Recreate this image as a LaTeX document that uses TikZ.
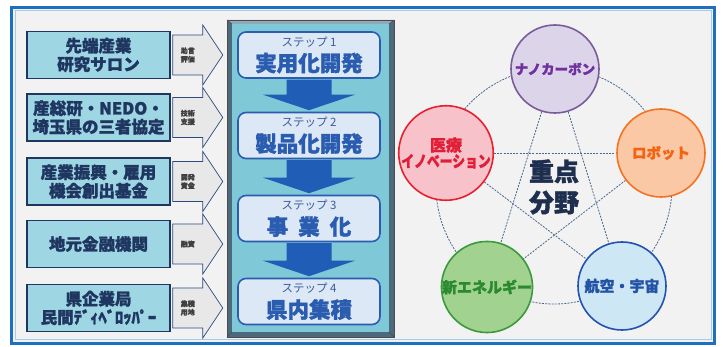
\documentclass[tikz,border=0pt]{standalone}
\usepackage{fontspec}
\usepackage{graphicx}
\setmainfont{Noto Sans CJK JP}[BoldFeatures={FakeBold=1.5}]
\usetikzlibrary{calc}
\pgfdeclarelayer{background}
\pgfdeclarelayer{mid}
\pgfsetlayers{background,mid,main}
\definecolor{frameblue}{HTML}{1F6FBF}
\definecolor{framelight}{HTML}{A9CBEA}
\definecolor{bggrey}{HTML}{F2F2F2}
\definecolor{navy}{HTML}{1F3660}
\definecolor{lboxfill}{HTML}{9FD6E4}
\definecolor{arrfill}{HTML}{E8E8E8}
\definecolor{arrdraw}{HTML}{2A4A80}
\definecolor{panelout}{HTML}{4C6A7B}
\definecolor{paneltop}{HTML}{8FA9B6}
\definecolor{panelin}{HTML}{7EC8D8}
\definecolor{stepfill}{HTML}{DCE8F5}
\definecolor{stepblue}{HTML}{2A5CB0}
\definecolor{subblue}{HTML}{3C5C98}
\definecolor{darrow}{HTML}{1F5DB6}
\definecolor{starline}{HTML}{4A6890}
\definecolor{purpfill}{HTML}{DCD5EA}
\definecolor{purpline}{HTML}{7A5C9C}
\definecolor{purptext}{HTML}{7030A0}
\definecolor{orfill}{HTML}{FBC8A6}
\definecolor{orline}{HTML}{F27422}
\definecolor{ortext}{HTML}{F06414}
\definecolor{redfill}{HTML}{F8C2CA}
\definecolor{redline}{HTML}{E8202E}
\definecolor{redtext}{HTML}{E01E38}
\definecolor{grfill}{HTML}{A2D290}
\definecolor{grline}{HTML}{3A9A3C}
\definecolor{grtext}{HTML}{2A8A2E}
\definecolor{blfill}{HTML}{CDE7F5}
\definecolor{blline}{HTML}{2452B0}
\definecolor{bltext}{HTML}{2452A4}
\definecolor{ctrtext}{HTML}{1E2E4E}
\newcommand\subtxt[1]{{\fontsize{11.5}{11.5}\selectfont\mdseries\color{subblue}#1}}
\newcommand\sidearrow[3]{%
  \draw[sidearr] ($(#1.east)+(2,-20)$) -- ($(#1.east)+(32,-20)$) -- ($(#1.east)+(32,-30)$)
    -- ($(#1.east)+(52,0)$) -- ($(#1.east)+(32,30)$) -- ($(#1.east)+(32,20)$)
    -- ($(#1.east)+(2,20)$) -- cycle;
  \node[alabel] (#2) at ($(#1.east)+(17,0)$) {#3};}
\newcommand\dnarrow[2]{%
  \fill[darrow] ($(#1.south)+(-22.5,0.8)$) -- ($(#1.south)+(22.5,0.8)$)
    -- ($(#2.north)+(22.5,-17)$) -- ($(#2.north)+(46,-17)$) -- ($(#2.north)+(0,-1.5)$)
    -- ($(#2.north)+(-46,-17)$) -- ($(#2.north)+(-22.5,-17)$) -- cycle;}
\begin{document}
\begin{tikzpicture}[x=1pt,y=-1pt,
  lbox/.style={draw=navy, line width=1.6pt, fill=lboxfill, minimum width=143pt,
    minimum height=47pt, align=center, inner sep=0pt, text=navy,
    font=\fontsize{16.5}{18.5}\selectfont\bfseries},
  sidearr/.style={draw=arrdraw, line width=0.7pt, fill=arrfill},
  alabel/.style={align=center, inner sep=0pt, text=black!75,
    font=\fontsize{7}{8.5}\selectfont\bfseries},
  sbox/.style={draw=stepblue, line width=1.6pt, fill=stepfill, rounded corners=8pt,
    minimum width=142pt, minimum height=46pt, align=center, inner sep=0pt,
    text=stepblue, font=\fontsize{21.5}{22}\selectfont\bfseries},
  circ/.style={circle, minimum size=88pt, line width=1.6pt, inner sep=0pt, align=center},
  star/.style={draw=starline, line width=0.8pt, dash pattern=on 2pt off 1.2pt}]
\begin{pgfonlayer}{background}
\useasboundingbox (0,0) rectangle (723,347);
\fill[white] (0,0) rectangle (723,347);
\draw[frameblue, line width=3.5pt, fill=bggrey] (11.5,7.5) rectangle (714.5,343.5);
\draw[framelight, line width=1pt] (15,11) rectangle (711,340);
\end{pgfonlayer}
% left boxes
\node[lbox] (l1) at (98.5,55) {先端産業\\研究サロン};
\node[lbox] (l2) at (98.5,117.5) {産総研・NEDO・\\埼玉県の三者協定};
\node[lbox] (l3) at (98.5,181.5) {産業振興・雇用\\機会創出基金};
\node[lbox] (l4) at (98.5,244) {地元金融機関};
\node[lbox] (l5) at (98.5,308) {県企業局\\民間ﾃﾞｨﾍﾞﾛｯﾊﾟｰ};
\sidearrow{l1}{t1}{助言\\評価}
\sidearrow{l2}{t2}{技術\\支援}
\sidearrow{l3}{t3}{開発\\資金}
\sidearrow{l4}{t4}{融資}
\sidearrow{l5}{t5}{集積\\用地}
% central panel
\fill[panelout] (227,20) rectangle (394,337);
\fill[paneltop] (227,20) -- (394,20) -- (389,24) -- (232,24) -- cycle;
\fill[panelin] (232,24) rectangle (389,332);
\draw[black!70, line width=0.6pt] (227,20) rectangle (394,337);
\draw[black!70, line width=0.5pt] (227,20) -- (232,24) (394,20) -- (389,24)
  (227,337) -- (232,332) (394,337) -- (389,332);
\node[sbox] (s1) at (309,55) {\subtxt{ステップ 1}\\[3pt]実用化開発};
\node[sbox] (s2) at (309,135.5) {\subtxt{ステップ 2}\\[3pt]製品化開発};
\node[sbox] (s3) at (309,218.5) {\subtxt{ステップ 3}\\[3pt]事\hspace{10pt}業\hspace{10pt}化};
\node[sbox] (s4) at (309,301.5) {\subtxt{ステップ 4}\\[3pt]県内集積};
\dnarrow{s1}{s2}
\dnarrow{s2}{s3}
\dnarrow{s3}{s4}
% circles
\node[circ, draw=purpline, fill=purpfill, text=purptext, font=\fontsize{13.5}{15}\selectfont\bfseries] (c1) at (555,69) {ナノカーボン};
\node[circ, draw=orline, fill=orfill, text=ortext, font=\fontsize{14.5}{16}\selectfont\bfseries] (c2) at (661,153) {ロボット};
\node[circ, draw=redline, fill=redfill, text=redtext, font=\fontsize{16}{18}\selectfont\bfseries] (c3) at (446,153) {医療\\[-2pt]\scalebox{0.8}[1]{イノベーション}};
\node[circ, draw=grline, fill=grfill, text=grtext, font=\fontsize{15}{16}\selectfont\bfseries] (c4) at (487,287) {新エネルギー};
\node[circ, draw=blline, fill=blfill, text=bltext, font=\fontsize{15}{16}\selectfont\bfseries] (c5) at (622,286) {航空・宇宙};
\node[align=center, inner sep=0pt, text=ctrtext, font=\fontsize{25}{31}\selectfont\bfseries] (ctr) at (554,187) {重点\\分野};
\coordinate (pc) at (554,186);
\begin{pgfonlayer}{mid}
\draw[star] (pc) circle[radius=118pt];
\draw[star] (c1.center) -- (c4.center);
\draw[star] (c1.center) -- (c5.center);
\draw[star] (c3.center) -- (c2.center);
\draw[star] (c3.center) -- (c5.center);
\draw[star] (c2.center) -- (c4.center);
\end{pgfonlayer}
\end{tikzpicture}
\end{document}
